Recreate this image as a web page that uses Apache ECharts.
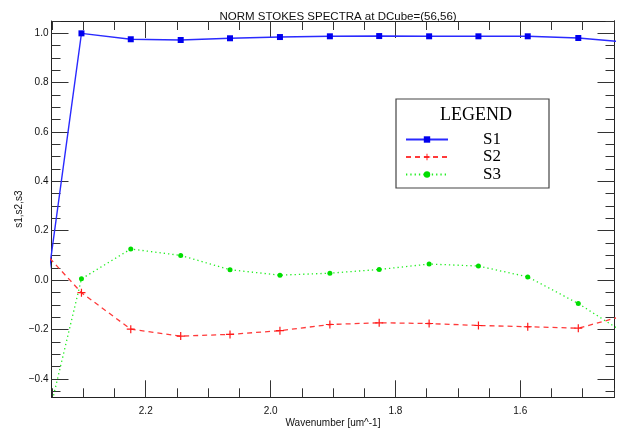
<!DOCTYPE html>
<html>
<head>
<meta charset="utf-8">
<script src="https://cdn.jsdelivr.net/npm/echarts@6/dist/echarts.min.js"></script>
<style>html,body{margin:0;padding:0;background:#fff}#c{width:621px;height:429px}</style>
</head>
<body>
<div id="c"></div>
<script>
// Wavenumber positions of the samples (first and last lie just outside the plotted range)
const wavenumber = [2.383, 2.303, 2.224, 2.144, 2.065, 1.985, 1.905, 1.826, 1.746, 1.667, 1.588, 1.507, 1.427];
const s1 = [-0.487, 1.000, 0.976, 0.973, 0.980, 0.985, 0.988, 0.989, 0.988, 0.988, 0.988, 0.981, 0.964];
const s2 = [0.169, -0.051, -0.199, -0.227, -0.220, -0.205, -0.180, -0.173, -0.176, -0.184, -0.189, -0.195, -0.140];
const s3 = [-0.840, 0.005, 0.126, 0.100, 0.042, 0.020, 0.028, 0.043, 0.065, 0.057, 0.013, -0.095, -0.224];
const seriesNames = ['S1', 'S2', 'S3'];
const xMajorTicks = [2.2, 2.0, 1.8, 1.6];
const yMajorTicks = [-0.4, -0.2, 0.0, 0.2, 0.4, 0.6, 0.8, 1.0];
const titleText = 'NORM STOKES SPECTRA at DCube=(56,56)';
const xTitle = 'Wavenumber [um^-1]';
const yTitle = 's1,s2,s3';

const X_MIN = 1.449, X_MAX = 2.351, Y_MIN = -0.475, Y_MAX = 1.05;
const xMinor = [], yMinor = [];
for (let k = 29; k <= 47; k++) xMinor.push(+(k * 0.05).toFixed(2));
for (let k = -9; k <= 21; k++) yMinor.push(+(k * 0.05).toFixed(2));

const tickCol = '#333';
const sans = 'Liberation Sans';
function xAxisDef(pos, ticks, len, main) {
  return {
    type: 'value', position: pos, inverse: true, min: X_MIN, max: X_MAX,
    name: main ? xTitle : '', nameLocation: 'middle', nameGap: 21, nameMoveOverlap: false,
    nameTextStyle: {fontFamily: sans, fontSize: 10, color: '#111'},
    axisLine: {show: !!main || pos === 'top', onZero: false, lineStyle: {color: '#222', width: 1}},
    axisTick: {show: true, inside: true, length: len, customValues: ticks, lineStyle: {color: tickCol, width: 1}},
    axisLabel: {show: !!main, customValues: xMajorTicks, margin: 9, fontFamily: sans, fontSize: 10, color: '#111',
      formatter: v => v.toFixed(1)},
    splitLine: {show: false}
  };
}
function yAxisDef(pos, ticks, len, main) {
  return {
    type: 'value', position: pos, min: Y_MIN, max: Y_MAX,
    name: main ? yTitle : '', nameLocation: 'middle', nameGap: 27, nameRotate: 90, nameMoveOverlap: false,
    nameTextStyle: {fontFamily: sans, fontSize: 10, color: '#111'},
    axisLine: {show: !!main || pos === 'right', onZero: false, lineStyle: {color: '#222', width: 1}},
    axisTick: {show: true, inside: true, length: len, customValues: ticks, lineStyle: {color: tickCol, width: 1}},
    axisLabel: {show: !!main, customValues: yMajorTicks, margin: 3, fontFamily: sans, fontSize: 10, color: '#111',
      formatter: v => v.toFixed(1).replace('-', '\u2212')},
    splitLine: {show: false}
  };
}

const plus = 'path://M3.4,0h1.2v3.4h3.4v1.2h-3.4v3.4h-1.2v-3.4h-3.4v-1.2h3.4z';
const pair = arr => wavenumber.map((w, i) => [w, arr[i]]);

const chart = echarts.init(document.getElementById('c'), null, {renderer: 'canvas'});
chart.setOption({
  animation: false,
  backgroundColor: '#fff',
  title: {text: titleText, left: 333, top: 6, textAlign: 'center',
    textStyle: {fontFamily: sans, fontSize: 11.5, fontWeight: 'normal', color: '#111'}},
  grid: {left: 51.5, right: 6.5, top: 21, bottom: 31.7, containLabel: false, outerBoundsMode: 'none'},
  xAxis: [
    xAxisDef('bottom', xMajorTicks, 17, true),
    xAxisDef('bottom', xMinor, 9, false),
    xAxisDef('top', xMajorTicks, 17, false),
    xAxisDef('top', xMinor, 9, false)
  ],
  yAxis: [
    yAxisDef('left', yMajorTicks, 17, true),
    yAxisDef('left', yMinor, 9, false),
    yAxisDef('right', yMajorTicks, 17, false),
    yAxisDef('right', yMinor, 9, false)
  ],
  legend: {
    data: seriesNames, orient: 'vertical', left: 400, top: 126, itemWidth: 42, itemHeight: 8, itemGap: 0.5,
    textStyle: {fontFamily: 'Liberation Serif', fontSize: 17, color: '#000', padding: [0, 0, 0, 30]},
    selectedMode: false, z: 5
  },
  graphic: [
    {type: 'rect', shape: {x: 396, y: 99, width: 153, height: 89}, z: 2,
      style: {fill: '#fff', stroke: '#444', lineWidth: 1.2}},
    {type: 'text', x: 476, y: 115, z: 3,
      style: {text: 'LEGEND', fontFamily: 'Liberation Serif', fontSize: 18, fill: '#000', align: 'center', verticalAlign: 'middle'}}
  ],
  series: [
    {name: seriesNames[0], type: 'line', data: pair(s1), xAxisIndex: 0, yAxisIndex: 0, clip: true,
      symbol: 'rect', symbolSize: 6, showAllSymbol: true,
      lineStyle: {color: '#2a2aff', width: 1.4}, itemStyle: {color: '#0000ee'}, z: 3},
    {name: seriesNames[1], type: 'line', data: pair(s2), xAxisIndex: 0, yAxisIndex: 0, clip: true,
      symbol: plus, symbolSize: 8, showAllSymbol: true,
      lineStyle: {color: '#ff3a3a', width: 1.3, type: [5, 4]}, itemStyle: {color: '#ff1a1a'}, z: 3},
    {name: seriesNames[2], type: 'line', data: pair(s3), xAxisIndex: 0, yAxisIndex: 0, clip: true,
      symbol: 'circle', symbolSize: 5, showAllSymbol: true,
      lineStyle: {color: '#22ee22', width: 1.3, type: [1.3, 3]}, itemStyle: {color: '#00dd00'}, z: 3}
  ]
});
</script>
</body>
</html>
